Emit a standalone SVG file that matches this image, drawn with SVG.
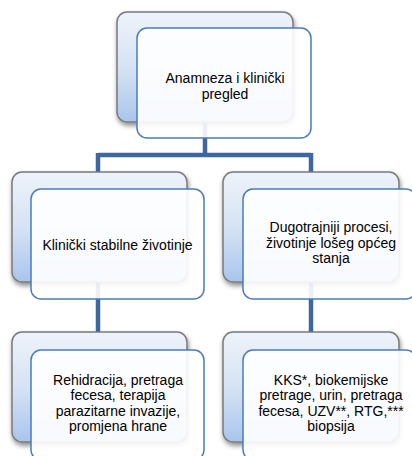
<svg xmlns="http://www.w3.org/2000/svg" width="412" height="456" viewBox="0 0 412 456">
<defs>
<linearGradient id="bg" x1="0" y1="0" x2="0" y2="1">
<stop offset="0" stop-color="#eef3fa"/>
<stop offset="0.5" stop-color="#d6e3f4"/>
<stop offset="1" stop-color="#a9c5ec"/>
</linearGradient>
<filter id="sh" x="-10%" y="-10%" width="125%" height="130%">
<feGaussianBlur in="SourceAlpha" stdDeviation="2.5"/>
<feOffset dx="1" dy="3" result="b"/>
<feComponentTransfer><feFuncA type="linear" slope="0.45"/></feComponentTransfer>
<feMerge><feMergeNode/><feMergeNode in="SourceGraphic"/></feMerge>
</filter>
</defs>
<style>
.back{fill:url(#bg);stroke:#7a7a7a;stroke-width:1.5;filter:url(#sh)}
.front{fill:#ffffff;fill-opacity:0.9;stroke:#4a7cb8;stroke-width:1.5}
.conn{fill:none;stroke:#3d679e;stroke-width:4.5}
text{font-family:"Liberation Sans",Arial,sans-serif;font-size:14px;fill:#000;text-anchor:middle}
</style>
<g id="connectors">
<path class="conn" d="M205,122 V155 M98,155 H311 M98,153 V172 M311,153 V172"/>
<path class="conn" d="M98,282 V332"/>
<path class="conn" d="M311,282 V332"/>
</g>
<g id="node-anamneza">
<rect class="back" x="117" y="12" width="176" height="110" rx="10"/>
<rect class="front" x="137" y="28" width="174" height="110" rx="10"/>
<text x="225" y="83">Anamneza i klinički</text>
<text x="225" y="99">pregled</text>
</g>
<g id="node-stabilne">
<rect class="back" x="12" y="172" width="175" height="110" rx="10"/>
<rect class="front" x="31" y="189" width="173" height="110" rx="10"/>
<text x="117.5" y="250">Klinički stabilne životinje</text>
</g>
<g id="node-dugotrajniji">
<rect class="back" x="223" y="172" width="176" height="110" rx="10"/>
<rect class="front" x="243" y="189" width="173" height="110" rx="10"/>
<text x="331" y="232">Dugotrajniji procesi,</text>
<text x="331" y="247.5">životinje lošeg općeg</text>
<text x="331" y="263">stanja</text>
</g>
<g id="node-rehidracija">
<rect class="back" x="12" y="332" width="175" height="110" rx="10"/>
<rect class="front" x="31" y="350" width="173" height="110" rx="10"/>
<text x="118" y="385">Rehidracija, pretraga</text>
<text x="118" y="400">fecesa, terapija</text>
<text x="118" y="415.5">parazitarne invazije,</text>
<text x="118" y="431">promjena hrane</text>
</g>
<g id="node-kks">
<rect class="back" x="223" y="332" width="176" height="110" rx="10"/>
<rect class="front" x="243" y="350" width="173" height="110" rx="10"/>
<text x="331" y="385">KKS*, biokemijske</text>
<text x="331" y="400">pretrage, urin, pretraga</text>
<text x="331" y="415.5">fecesa, UZV**, RTG,***</text>
<text x="331" y="431">biopsija</text>
</g>
</svg>
